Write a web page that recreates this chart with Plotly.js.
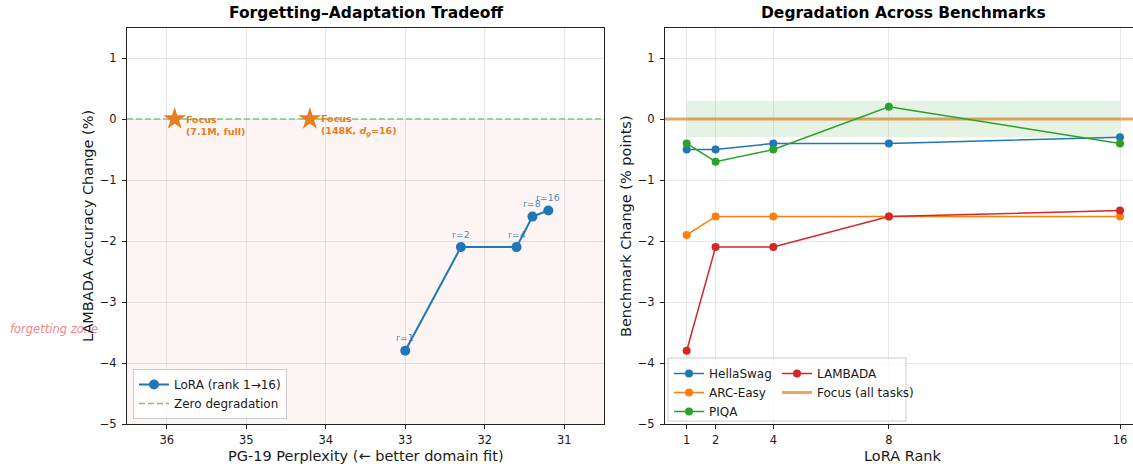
<!DOCTYPE html>
<html>
<head>
<meta charset="utf-8">
<script src="https://cdn.plot.ly/plotly-3.0.1.min.js"></script>
<style>html,body{margin:0;padding:0;background:#fff;}</style>
</head>
<body>
<div id="chart" style="width:1133px;height:464px;"></div>
<script>
// ---- data ----
const loraRanks = [1, 2, 4, 8, 16];
const loraLabels = ['r=1', 'r=2', 'r=4', 'r=8', 'r=16'];
const loraPerplexity = [33.0, 32.3, 31.6, 31.4, 31.2];
const loraLambada = [-3.8, -2.1, -2.1, -1.6, -1.5];
const focusPerplexity = [35.9, 34.2];
const focusLambada = [0, 0];
const focusLabels = ['<b>Focus<br>(7.1M, full)</b>', '<b>Focus<br>(148K, <i>d</i><sub><i>g</i></sub>=16)</b>'];
const benchmarkNames = ['HellaSwag', 'ARC-Easy', 'PIQA', 'LAMBADA'];
const hellaswag = [-0.5, -0.5, -0.4, -0.4, -0.3];
const arcEasy = [-1.9, -1.6, -1.6, -1.6, -1.6];
const piqa = [-0.4, -0.7, -0.5, 0.2, -0.4];
const lambada = [-3.8, -2.1, -2.1, -1.6, -1.5];
const focusBand = [-0.3, 0.3];
const yTicks = [-5, -4, -3, -2, -1, 0, 1];
const pplTicks = [31, 32, 33, 34, 35, 36];

// ---- helpers ----
const W = 1133, H = 464;
const X = px => px / W;
const Y = py => 1 - py / H;
const FONT = 'DejaVu Sans';
const TXT = '#1a1a1a';
const GRID = 'rgba(176,176,176,0.3)';
const C = {blue: '#1f77b4', orange: '#ff7f0e', green: '#2ca02c', red: '#d62728', focus: '#e67e22'};

const traces = [
  {
    x: loraPerplexity, y: loraLambada, xaxis: 'x', yaxis: 'y',
    type: 'scatter', mode: 'lines+markers', name: 'LoRA (rank 1→16)',
    line: {color: C.blue, width: 2}, marker: {color: C.blue, size: 10},
    legend: 'legend', legendrank: 1
  },
  {
    x: focusPerplexity, y: focusLambada, xaxis: 'x', yaxis: 'y',
    type: 'scatter', mode: 'markers', showlegend: false,
    marker: {color: C.focus, size: 17, symbol: 'star'}
  }
];

const series = [
  {name: benchmarkNames[0], y: hellaswag, color: C.blue, legend: 'legend2', rank: 1},
  {name: benchmarkNames[1], y: arcEasy, color: C.orange, legend: 'legend2', rank: 2},
  {name: benchmarkNames[2], y: piqa, color: C.green, legend: 'legend2', rank: 3},
  {name: benchmarkNames[3], y: lambada, color: C.red, legend: 'legend3', rank: 1}
];
series.forEach(s => traces.push({
  x: loraRanks, y: s.y, xaxis: 'x2', yaxis: 'y2',
  type: 'scatter', mode: 'lines+markers', name: s.name,
  line: {color: s.color, width: 1.5}, marker: {color: s.color, size: 8},
  legend: s.legend, legendrank: s.rank
}));

const shapes = [
  {type: 'rect', xref: 'x domain', yref: 'y', x0: 0, x1: 1, y0: -5, y1: 0,
   fillcolor: '#fdf4f4', line: {width: 0}, layer: 'below'},
  {type: 'line', xref: 'x domain', yref: 'y', x0: 0, x1: 1, y0: 0, y1: 0,
   line: {color: 'rgba(44,160,44,0.6)', width: 1.6, dash: '6px,3px'}, layer: 'below',
   showlegend: true, name: 'Zero degradation', legend: 'legend', legendrank: 2},
  {type: 'rect', xref: 'x2', yref: 'y2', x0: loraRanks[0], x1: loraRanks[loraRanks.length - 1],
   y0: focusBand[0], y1: focusBand[1], fillcolor: 'rgba(44,160,44,0.12)', line: {width: 0}, layer: 'below'},
  {type: 'line', xref: 'x2 domain', yref: 'y2', x0: 0, x1: 1, y0: 0, y1: 0,
   line: {color: 'rgba(230,126,34,0.7)', width: 3}, layer: 'below',
   showlegend: true, name: 'Focus (all tasks)', legend: 'legend3', legendrank: 2},
  {type: 'rect', xref: 'paper', yref: 'paper', x0: X(668), x1: X(906), y0: Y(421), y1: Y(358),
   fillcolor: 'rgba(255,255,255,0.8)', line: {color: '#cccccc', width: 1}, layer: 'above'}
];

const annotations = [
  {text: '<i>forgetting zone</i>', xref: 'paper', yref: 'paper', x: X(8), y: Y(329),
   xanchor: 'left', yanchor: 'middle', showarrow: false,
   font: {family: FONT, size: 11.5, color: '#f3868a'}},
  {text: '<b>Forgetting–Adaptation Tradeoff</b>', xref: 'paper', yref: 'paper', x: X(365.5), y: Y(13),
   xanchor: 'center', yanchor: 'middle', showarrow: false, font: {family: FONT, size: 15.5, color: '#000'}},
  {text: '<b>Degradation Across Benchmarks</b>', xref: 'paper', yref: 'paper', x: X(903), y: Y(13),
   xanchor: 'center', yanchor: 'middle', showarrow: false, font: {family: FONT, size: 15.5, color: '#000'}},
  {text: 'PG-19 Perplexity (← better domain fit)', xref: 'paper', yref: 'paper', x: X(365.5), y: Y(456),
   xanchor: 'center', yanchor: 'middle', showarrow: false, font: {family: FONT, size: 14.5, color: TXT}},
  {text: 'LoRA Rank', xref: 'paper', yref: 'paper', x: X(903), y: Y(456),
   xanchor: 'center', yanchor: 'middle', showarrow: false, font: {family: FONT, size: 14.5, color: TXT}},
  {text: 'LAMBADA Accuracy Change (%)', xref: 'paper', yref: 'paper', x: X(88), y: Y(226),
   xanchor: 'center', yanchor: 'middle', textangle: -90, showarrow: false, font: {family: FONT, size: 14.5, color: TXT}},
  {text: 'Benchmark Change (% points)', xref: 'paper', yref: 'paper', x: X(626), y: Y(226),
   xanchor: 'center', yanchor: 'middle', textangle: -90, showarrow: false, font: {family: FONT, size: 14.5, color: TXT}}
];
loraLabels.forEach((t, i) => annotations.push({
  text: t, xref: 'x', yref: 'y', x: loraPerplexity[i], y: loraLambada[i],
  xanchor: 'center', yanchor: 'middle', yshift: 13, showarrow: false,
  font: {family: FONT, size: 9.4, color: 'rgba(31,119,180,0.85)'}
}));
focusLabels.forEach((t, i) => annotations.push({
  text: t, xref: 'x', yref: 'y', x: focusPerplexity[i], y: focusLambada[i],
  xanchor: 'left', yanchor: 'middle', xshift: 9, yshift: -6, align: 'left', showarrow: false,
  font: {family: FONT, size: 9.5, color: C.focus}
}));

const axisCommon = {
  showgrid: true, gridcolor: GRID, gridwidth: 1, zeroline: false,
  showline: true, linecolor: '#222', linewidth: 1,
  ticks: 'outside', ticklen: 4, tickwidth: 1, tickcolor: '#222',
  tickfont: {family: FONT, size: 11.5, color: TXT}, ticklabelstandoff: 1
};
const yDomain = [Y(424), Y(27.5)];

const legendCommon = {
  orientation: 'v', xanchor: 'left', font: {family: FONT, size: 12, color: TXT},
  tracegroupgap: 0, itemwidth: 30
};

const layout = {
  width: W, height: H,
  margin: {l: 0, r: 0, t: 0, b: 0},
  paper_bgcolor: '#ffffff', plot_bgcolor: '#ffffff',
  font: {family: FONT, color: TXT},
  showlegend: true,
  hovermode: false,
  xaxis: Object.assign({}, axisCommon, {
    domain: [X(127), X(604)], range: [36.5, 30.5], autorange: false,
    tickvals: pplTicks, anchor: 'y', mirror: true
  }),
  yaxis: Object.assign({}, axisCommon, {
    domain: yDomain, range: [-5, 1.5], autorange: false,
    tickvals: yTicks, anchor: 'x', mirror: true, ticklabelstandoff: 3
  }),
  xaxis2: Object.assign({}, axisCommon, {
    domain: [X(665), 1], range: [0.25, 16.45], autorange: false,
    tickvals: loraRanks, anchor: 'y2', mirror: true
  }),
  yaxis2: Object.assign({}, axisCommon, {
    domain: yDomain, range: [-5, 1.5], autorange: false,
    tickvals: yTicks, anchor: 'x2', mirror: false, ticklabelstandoff: 3
  }),
  legend: Object.assign({}, legendCommon, {
    x: X(133), y: Y(419), yanchor: 'bottom',
    bgcolor: 'rgba(255,255,255,0.8)', bordercolor: '#cccccc', borderwidth: 1
  }),
  legend2: Object.assign({}, legendCommon, {
    x: X(669), y: Y(359), yanchor: 'top', bgcolor: 'rgba(0,0,0,0)', borderwidth: 0
  }),
  legend3: Object.assign({}, legendCommon, {
    x: X(777), y: Y(359), yanchor: 'top', bgcolor: 'rgba(0,0,0,0)', borderwidth: 0
  }),
  shapes: shapes,
  annotations: annotations
};

Plotly.newPlot('chart', traces, layout, {staticPlot: true, displayModeBar: false});
</script>
</body>
</html>
